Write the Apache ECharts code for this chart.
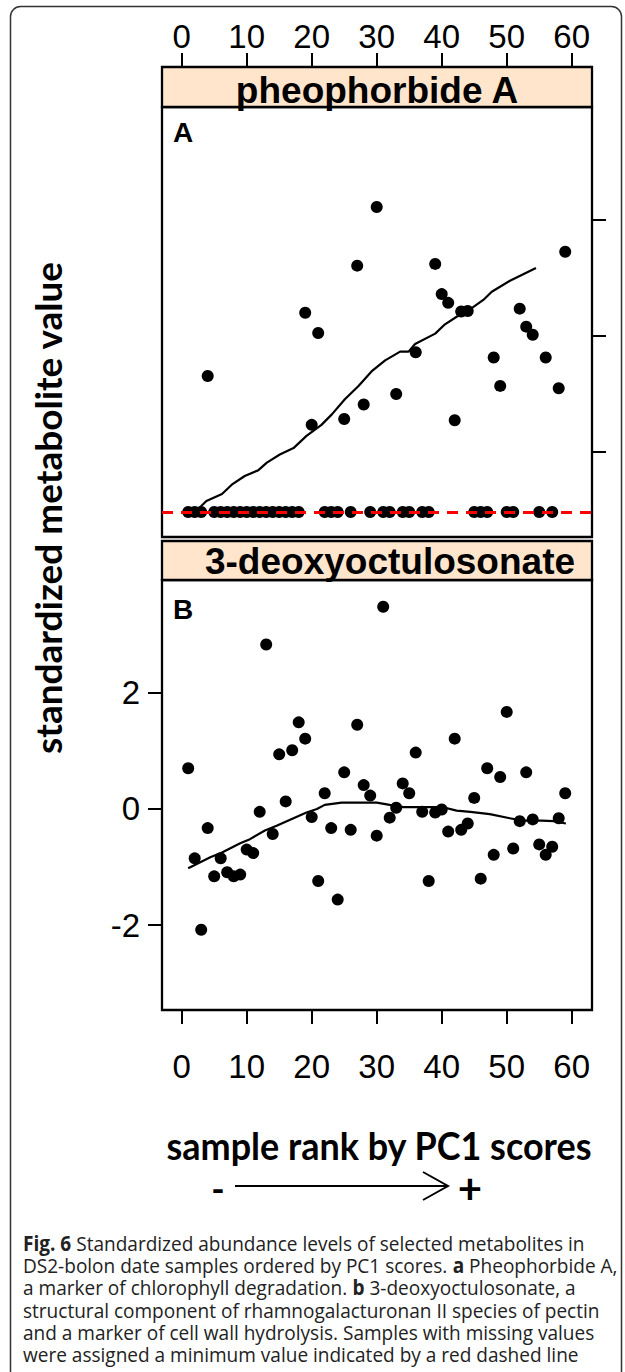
<!DOCTYPE html>
<html>
<head>
<meta charset="utf-8">
<script src="https://cdn.jsdelivr.net/npm/echarts@6/dist/echarts.min.js"></script>
<style>
html,body{margin:0;padding:0;background:#ffffff;}
#chart{width:625px;height:1372px;}
</style>
</head>
<body>
<div id="chart"></div>
<script>
// ---------------- data ----------------
const ranks = [1,2,3,4,5,6,7,8,9,10,11,12,13,14,15,16,17,18,19,20,
  21,22,23,24,25,26,27,28,29,30,31,32,33,34,35,36,37,38,39,40,
  41,42,43,44,45,46,47,48,49,50,51,52,53,54,55,56,57,58,59];

// value assigned to samples with missing values (red dashed line)
const missingValue = -3.03;

const pheophorbideA = [-3.03,-3.03,-3.03,-0.69,-3.03,-3.03,-3.03,-3.03,-3.03,-3.03,
  -3.03,-3.03,-3.03,-3.03,-3.03,-3.03,-3.03,-3.03,0.40,-1.53,
  0.05,-3.03,-3.03,-3.03,-1.43,-3.03,1.21,-1.18,-3.03,2.22,
  -3.03,-3.03,-1.00,-3.03,-3.03,-0.28,-3.03,-3.03,1.24,0.72,
  0.57,-1.45,0.42,0.43,-3.03,-3.03,-3.03,-0.37,-0.86,-3.03,
  -3.03,0.47,0.16,0.02,-3.03,-0.37,-3.03,-0.90,1.45];

const deoxyoctulosonate = [0.70,-0.85,-2.08,-0.33,-1.16,-0.85,-1.09,-1.16,-1.13,-0.70,
  -0.76,-0.05,2.83,-0.43,0.94,0.13,1.01,1.49,1.21,-0.14,
  -1.24,0.27,-0.33,-1.56,0.63,-0.36,1.45,0.41,0.23,-0.46,
  3.48,-0.15,0.02,0.44,0.27,0.97,-0.05,-1.24,-0.06,-0.01,
  -0.39,1.21,-0.36,-0.25,0.19,-1.20,0.70,-0.79,0.55,1.67,
  -0.68,-0.21,0.63,-0.18,-0.61,-0.79,-0.65,-0.16,0.27];

// smoother curves
const smoothA_x = [2.7,3.8,6.2,7.7,9.7,11.8,13.1,15.1,17.2,19.2,21.5,23.1,25.1,27.2,29.2,31.3,33.6,34.9,35.9,39.0,40.5,42.3,44.4,46.4,47.7,50.5,54.5];
const smoothA_y = [-2.96,-2.84,-2.72,-2.56,-2.41,-2.31,-2.18,-2.04,-1.93,-1.72,-1.53,-1.35,-1.09,-0.86,-0.61,-0.42,-0.27,-0.27,-0.14,0.04,0.20,0.33,0.46,0.62,0.76,0.95,1.17];
const smoothB_x = [1.0,4.4,6.2,9.0,10.5,12.8,14.6,17.2,19.2,20.8,22.0,24.6,30.0,32.0,34.1,40.2,42.3,44.4,47.4,50.5,52.3,55.4,57.2,59.1];
const smoothB_y = [-1.02,-0.83,-0.75,-0.59,-0.52,-0.37,-0.29,-0.16,-0.06,0.00,0.07,0.11,0.11,0.07,0.03,0.03,-0.03,-0.05,-0.09,-0.16,-0.20,-0.20,-0.21,-0.25];

const xTicks = [0,10,20,30,40,50,60];
const yTicks = [-2,0,2];
const panelTitles = ['pheophorbide A','3-deoxyoctulosonate'];
const panelLetters = ['A','B'];
const yAxisTitle = 'standardized metabolite value';
const xAxisTitle = 'sample rank by PC1 scores';
const captionLines = [
  '{b|Fig. 6} Standardized abundance levels of selected metabolites in',
  'DS2-bolon date samples ordered by PC1 scores. {b|a} Pheophorbide A,',
  'a marker of chlorophyll degradation. {b|b} 3-deoxyoctulosonate, a',
  'structural component of rhamnogalacturonan II species of pectin',
  'and a marker of cell wall hydrolysis. Samples with missing values',
  'were assigned a minimum value indicated by a red dashed line'
];

// ---------------- helpers ----------------
const zip = (xs, ys) => xs.map((x, i) => [x, ys[i]]);
const mctx = document.createElement('canvas').getContext('2d');
function textWidth(text, weight, size, family) {
  mctx.font = weight + ' ' + size + 'px ' + family;
  return mctx.measureText(text).width;
}

const TICK_FONT = '"Liberation Sans", Arial, sans-serif';
const LABEL_FONT = 'Lato, "Open Sans", sans-serif';
const CAP_FONT = '"Open Sans", "Noto Sans", sans-serif';

function xAxisCfg(grid, pos, showLabel, margin, offset) {
  return {
    type: 'value', gridIndex: grid, position: pos, offset: offset, min: -3.03, max: 63.12,
    axisLine: {show: false, onZero: false},
    axisTick: {show: true, customValues: xTicks, length: 14, inside: false, lineStyle: {color: '#000', width: 2}},
    axisLabel: {show: showLabel, customValues: xTicks, fontSize: 33, color: '#000', fontFamily: TICK_FONT, margin: margin},
    splitLine: {show: false}
  };
}
function yAxisCfg(grid, pos, showLabel) {
  return {
    type: 'value', gridIndex: grid, position: pos, min: -3.46, max: 3.94,
    axisLine: {show: false, onZero: false},
    axisTick: {show: true, customValues: yTicks, length: 14, inside: false, lineStyle: {color: '#000', width: 2}},
    axisLabel: {show: showLabel, customValues: yTicks, fontSize: 33, color: '#000', fontFamily: TICK_FONT, margin: 22},
    splitLine: {show: false}
  };
}

const chart = echarts.init(document.getElementById('chart'), null, {renderer: 'svg'});

const gridCommon = {left: 162, width: 430, height: 430, show: true, borderColor: '#000', borderWidth: 2.3,
  backgroundColor: 'transparent', containLabel: false, outerBoundsMode: 'none'};

// condensed-looking titles: natural size, squeezed to the measured width
const yTitleSize = 37, xTitleSize = 38, capSize = 20.5;
const yTitleScale = 493 / textWidth(yAxisTitle, 'bold', yTitleSize, LABEL_FONT);
const xTitleScale = 426 / textWidth(xAxisTitle, 'bold', xTitleSize, LABEL_FONT);
const capScale = 577 / textWidth('structural component of rhamnogalacturonan II species of pectin', 'normal', capSize, CAP_FONT);

const graphics = [
  {type: 'rect', shape: {x: 10.5, y: 6.5, width: 611, height: 1400, r: 10}, style: {fill: 'none', stroke: '#333', lineWidth: 1.5}, z: -10},
  // strips
  {type: 'rect', shape: {x: 162, y: 67, width: 430, height: 40}, style: {fill: '#ffe5cc', stroke: '#000', lineWidth: 2.3}, z: 1},
  {type: 'rect', shape: {x: 162, y: 541, width: 430, height: 39}, style: {fill: '#ffe5cc', stroke: '#000', lineWidth: 2.3}, z: 1},
  {type: 'text', x: 377, y: 90, z: 2, style: {text: panelTitles[0], fontSize: 37, fontWeight: 'bold', fontFamily: TICK_FONT, fill: '#000', align: 'center', verticalAlign: 'middle'}},
  {type: 'text', x: 390, y: 561, z: 2, style: {text: panelTitles[1], fontSize: 37, fontWeight: 'bold', fontFamily: TICK_FONT, fill: '#000', align: 'center', verticalAlign: 'middle'}},
  // panel letters
  {type: 'text', x: 183, y: 132, z: 2, style: {text: panelLetters[0], fontSize: 28, fontWeight: 'bold', fontFamily: TICK_FONT, fill: '#000', align: 'center', verticalAlign: 'middle'}},
  {type: 'text', x: 183, y: 609, z: 2, style: {text: panelLetters[1], fontSize: 28, fontWeight: 'bold', fontFamily: TICK_FONT, fill: '#000', align: 'center', verticalAlign: 'middle'}},
  // axis titles
  {type: 'text', x: 48, y: 508, rotation: Math.PI / 2, scaleX: yTitleScale, style: {text: yAxisTitle, fontSize: yTitleSize, fontWeight: 'bold', fontFamily: LABEL_FONT, fill: '#000', align: 'center', verticalAlign: 'middle'}},
  {type: 'text', x: 379, y: 1145, scaleX: xTitleScale, style: {text: xAxisTitle, fontSize: xTitleSize, fontWeight: 'bold', fontFamily: LABEL_FONT, fill: '#000', align: 'center', verticalAlign: 'middle'}},
  // direction arrow
  {type: 'text', x: 218, y: 1188, style: {text: '-', fontSize: 36, fontWeight: 'bold', fontFamily: LABEL_FONT, fill: '#000', align: 'center', verticalAlign: 'middle'}},
  {type: 'line', shape: {x1: 235, y1: 1186, x2: 447, y2: 1186}, style: {stroke: '#000', lineWidth: 2}},
  {type: 'polyline', shape: {points: [[423, 1172], [448, 1186], [423, 1200]]}, style: {stroke: '#000', lineWidth: 2, fill: 'none'}},
  {type: 'text', x: 470, y: 1188, style: {text: '+', fontSize: 42, fontWeight: 'bold', fontFamily: LABEL_FONT, fill: '#000', align: 'center', verticalAlign: 'middle'}}
];
captionLines.forEach((line, i) => {
  graphics.push({type: 'text', x: 23, y: 1243 + i * 22.3, scaleX: capScale, style: {
    text: line, fontSize: capSize, fontFamily: CAP_FONT, fill: '#222', align: 'left', verticalAlign: 'middle',
    rich: {b: {fontWeight: 'bold', fontSize: capSize, fontFamily: CAP_FONT, fill: '#222'}}
  }});
});

const option = {
  animation: false,
  backgroundColor: '#ffffff',
  grid: [
    Object.assign({top: 107}, gridCommon),
    Object.assign({top: 580}, gridCommon)
  ],
  xAxis: [xAxisCfg(0, 'top', true, 14, 40), xAxisCfg(1, 'bottom', true, 40, 0)],
  yAxis: [yAxisCfg(0, 'right', false), yAxisCfg(1, 'left', true)],
  series: [
    {
      name: panelTitles[0], type: 'scatter', xAxisIndex: 0, yAxisIndex: 0,
      data: zip(ranks, pheophorbideA), symbolSize: 12, itemStyle: {color: '#000', opacity: 1}, z: 3,
      markLine: {
        silent: true, symbol: ['none', 'none'], label: {show: false}, z: 10,
        lineStyle: {color: '#ff0000', width: 3, type: [11, 8], opacity: 1},
        data: [{yAxis: missingValue}]
      }
    },
    {
      type: 'line', xAxisIndex: 0, yAxisIndex: 0, data: zip(smoothA_x, smoothA_y),
      showSymbol: false, symbol: 'none', lineStyle: {color: '#000', width: 2.2}, z: 2, silent: true
    },
    {
      name: panelTitles[1], type: 'scatter', xAxisIndex: 1, yAxisIndex: 1,
      data: zip(ranks, deoxyoctulosonate), symbolSize: 12, itemStyle: {color: '#000', opacity: 1}, z: 3
    },
    {
      type: 'line', xAxisIndex: 1, yAxisIndex: 1, data: zip(smoothB_x, smoothB_y),
      showSymbol: false, symbol: 'none', lineStyle: {color: '#000', width: 2.2}, z: 2, silent: true
    }
  ],
  graphic: graphics
};
chart.setOption(option);
</script>
</body>
</html>
